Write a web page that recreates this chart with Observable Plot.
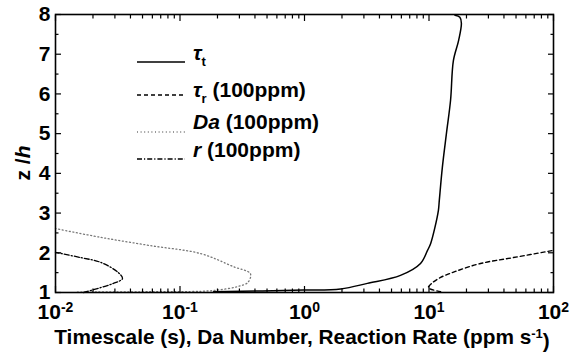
<!DOCTYPE html>
<html><head><meta charset="utf-8">
<script src="https://cdn.jsdelivr.net/npm/d3@7"></script>
<script src="https://cdn.jsdelivr.net/npm/@observablehq/plot@0.6"></script>
<style>
body{margin:0;background:#fff}
#chart{width:577px;height:363px}
</style>
</head><body><div id="chart"></div>
<script>
// ---- data ----
const tauT_x = [0.186, 0.98, 1.95, 3.2, 5.9, 8.55, 9.73, 10.3, 11.1, 11.9, 12.1, 12.8, 13.8, 14.9, 15.7, 17.3, 18.2, 17.7, 16.2];
const tauT_z = [1.02, 1.06, 1.09, 1.23, 1.43, 1.73, 2.06, 2.23, 2.61, 3.07, 3.32, 4.15, 5.0, 5.84, 6.84, 7.35, 7.78, 7.93, 7.98];
const tauR_x = [12.4, 9.9, 10.5, 12.4, 16.3, 25.9, 47.7, 100];
const tauR_z = [1.02, 1.12, 1.23, 1.38, 1.53, 1.73, 1.88, 2.06];
const da_x = [0.015, 0.06, 0.146, 0.2, 0.29, 0.35, 0.368, 0.269, 0.146, 0.058, 0.023, 0.01];
const da_z = [1.01, 1.02, 1.03, 1.06, 1.15, 1.25, 1.47, 1.65, 1.98, 2.18, 2.39, 2.61];
const r_x = [0.0168, 0.0217, 0.0292, 0.0345, 0.032, 0.023, 0.0159, 0.01];
const r_z = [1.0, 1.1, 1.23, 1.35, 1.5, 1.76, 1.88, 2.01];

const xMajor = [0.01, 0.1, 1, 10, 100];
const xExp = ["-2", "-1", "0", "1", "2"];
const xMinor = [0.02,0.03,0.04,0.05,0.06,0.07,0.08,0.09,
                0.2,0.3,0.4,0.5,0.6,0.7,0.8,0.9,
                2,3,4,5,6,7,8,9,
                20,30,40,50,60,70,80,90];
const yMajor = [1, 2, 3, 4, 5, 6, 7, 8];
const yMinor = [1.5, 2.5, 3.5, 4.5, 5.5, 6.5, 7.5];

const xTitle = "Timescale (s), Da Number, Reaction Rate (ppm s";
const yTitle = ["z", " /", "h"];
const legendItems = [
  {sym: "τ", sub: "t", rest: ""},
  {sym: "τ", sub: "r", rest: " (100ppm)"},
  {sym: "Da", sub: "", rest: " (100ppm)"},
  {sym: "r", sub: "", rest: " (100ppm)"}
];

const rows = (xs, zs) => xs.map((x, i) => ({x, z: zs[i]}));
const FONT = "'Liberation Sans', Arial, sans-serif";

const styles = [
  {stroke: "#000", strokeWidth: 1.5, dash: null},
  {stroke: "#000", strokeWidth: 1.4, dash: "4,3"},
  {stroke: "#777", strokeWidth: 1.3, dash: "1,2.6"},
  {stroke: "#000", strokeWidth: 1.3, dash: "5,2,1.2,2"}
];

const MAJ = 6, MIN = 3.5;
const tickOpts = (anchor, size) => {
  const o = {anchor, tickSize: size, tickFormat: () => "", label: null, strokeWidth: 1.2};
  if (anchor === "bottom") o.dy = -size;
  if (anchor === "top") o.dy = size;
  if (anchor === "left") o.dx = size;
  if (anchor === "right") o.dx = -size;
  return o;
};

const chart = Plot.plot({
  width: 577, height: 363,
  marginLeft: 55, marginRight: 24, marginTop: 14, marginBottom: 71,
  style: {fontFamily: FONT, background: "#fff"},
  x: {type: "log", domain: [0.01, 100]},
  y: {domain: [1, 8]},
  marks: [
    Plot.line(rows(da_x, da_z), {x: "x", y: "z", stroke: styles[2].stroke, strokeWidth: styles[2].strokeWidth, strokeDasharray: styles[2].dash, curve: "catmull-rom"}),
    Plot.line(rows(r_x, r_z), {x: "x", y: "z", stroke: styles[3].stroke, strokeWidth: styles[3].strokeWidth, strokeDasharray: styles[3].dash, curve: "catmull-rom"}),
    Plot.line(rows(tauR_x, tauR_z), {x: "x", y: "z", stroke: styles[1].stroke, strokeWidth: styles[1].strokeWidth, strokeDasharray: styles[1].dash, curve: "catmull-rom"}),
    Plot.line(rows(tauT_x, tauT_z), {x: "x", y: "z", stroke: styles[0].stroke, strokeWidth: styles[0].strokeWidth, curve: "catmull-rom"}),
    // inward ticks on all four sides
    Plot.axisX(xMajor, tickOpts("bottom", MAJ)),
    Plot.axisX(xMinor, tickOpts("bottom", MIN)),
    Plot.axisX(xMajor, tickOpts("top", MAJ)),
    Plot.axisX(xMinor, tickOpts("top", MIN)),
    Plot.axisY(yMajor, tickOpts("left", MAJ)),
    Plot.axisY(yMinor, tickOpts("left", MIN)),
    Plot.axisY(yMajor, tickOpts("right", MAJ)),
    Plot.axisY(yMinor, tickOpts("right", MIN)),
    // labels
    Plot.axisY(yMajor, {anchor: "left", tickSize: 0, tickPadding: 5, label: null, fontSize: 21, fontWeight: "bold", fill: "#000", tickFormat: d => String(d)}),
    Plot.axisX(xMajor, {anchor: "bottom", tickSize: 0, tickPadding: 12, label: null, fontSize: 21, fontWeight: "bold", fill: "#000",
      tickFormat: d => "10|" + xExp[xMajor.indexOf(d)]}),
    Plot.frame({stroke: "#000", strokeWidth: 1.6})
  ]
});
document.getElementById("chart").appendChild(chart);

const svg = d3.select(chart);
// superscript exponents on x tick labels
svg.selectAll("g[aria-label='x-axis tick label'] text").each(function () {
  const t = d3.select(this);
  const s = t.text();
  if (!s.includes("|")) return;
  const [base, ex] = s.split("|");
  t.text(null);
  t.append("tspan").text(base);
  t.append("tspan").attr("dy", "-0.5em").attr("font-size", 14).text(ex);
});

// axis titles
const xt = svg.append("text").attr("x", 302).attr("y", 344).attr("text-anchor", "middle")
  .attr("font-family", FONT).attr("font-size", 20.8).attr("font-weight", "bold").attr("fill", "#000");
xt.append("tspan").text(xTitle);
xt.append("tspan").attr("dy", "-0.5em").attr("font-size", 13).text("-1");
xt.append("tspan").attr("dy", "0.5em").text(")");

const yt = svg.append("text").attr("transform", "translate(30,163) rotate(-90)").attr("text-anchor", "middle")
  .attr("font-family", FONT).attr("font-size", 21).attr("font-weight", "bold").attr("fill", "#000");
yt.append("tspan").text(yTitle[0]);
yt.append("tspan").text(yTitle[1]);
yt.append("tspan").attr("font-style", "italic").text(yTitle[2]);

// legend
const legendLineY = [62, 95, 132, 159];
const legendBase = [60, 97, 129, 157];
const lg = svg.append("g").attr("font-family", FONT).attr("font-weight", "bold").attr("font-size", 21).attr("text-anchor", "start");
legendItems.forEach((it, i) => {
  const st = styles[i];
  lg.append("line").attr("x1", 137).attr("x2", 185).attr("y1", legendLineY[i]).attr("y2", legendLineY[i])
    .attr("stroke", st.stroke).attr("stroke-width", st.strokeWidth).attr("stroke-dasharray", st.dash);
  const t = lg.append("text").attr("x", 193).attr("y", legendBase[i]).attr("fill", "#000");
  t.append("tspan").attr("font-style", "italic").text(it.sym);
  if (it.sub) {
    t.append("tspan").attr("dy", 6).attr("font-size", 13).text(it.sub);
    t.append("tspan").attr("dy", -6).text(it.rest);
  } else {
    t.append("tspan").text(it.rest);
  }
});
</script>
</body></html>
